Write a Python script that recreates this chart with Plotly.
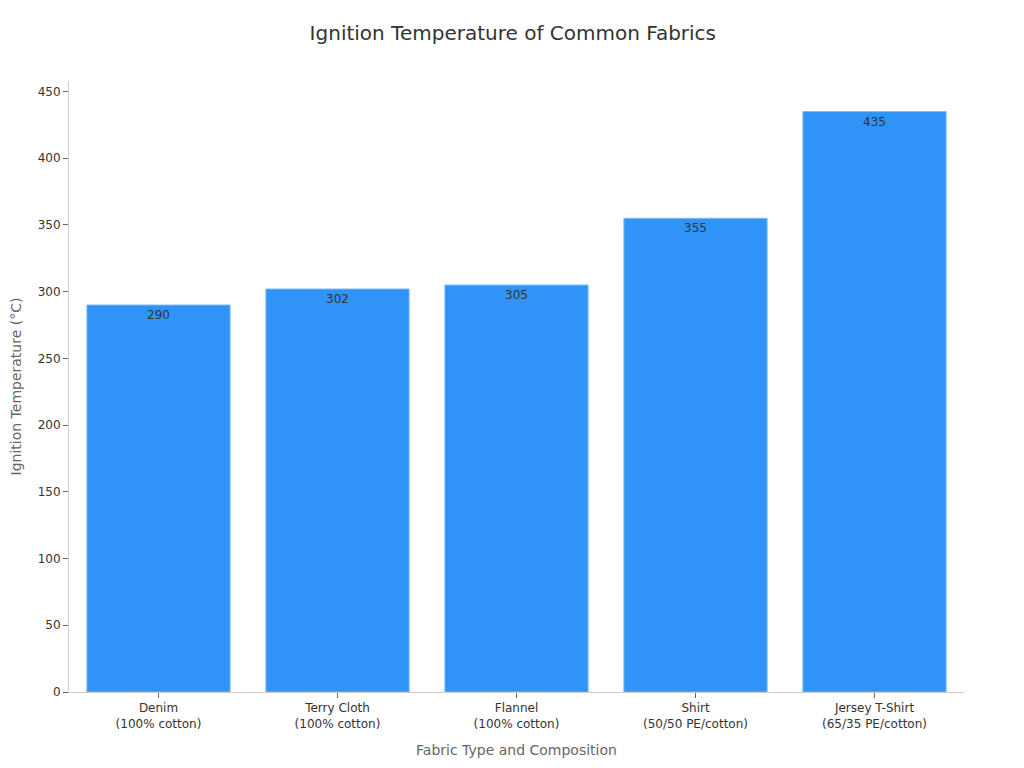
import plotly.graph_objects as go

fabrics = ["Denim<br>(100% cotton)", "Terry Cloth<br>(100% cotton)", "Flannel<br>(100% cotton)",
           "Shirt<br>(50/50 PE/cotton)", "Jersey T-Shirt<br>(65/35 PE/cotton)"]
ignition_temp = [290, 302, 305, 355, 435]

fig = go.Figure(data=go.Bar(
    x=fabrics, y=ignition_temp,
    text=ignition_temp, textposition='inside', insidetextanchor='end',
    textfont=dict(color='#333333', size=12),
    marker=dict(color='#2F93F8', line=dict(color='#7DBBF9', width=1)),
))

fig.update_layout(
    title=dict(text='Ignition Temperature of Common Fabrics', x=0.493, y=0.976,
               font=dict(size=20, color='#333333')),
    font=dict(family='DejaVu Sans', size=12, color='#333333'),
    plot_bgcolor='white', paper_bgcolor='white',
    width=1024, height=768,
    margin=dict(l=61, r=68, t=73, b=84),
    bargap=0.2,
    xaxis=dict(title=dict(text='Fabric Type and Composition', font=dict(size=14, color='#666666')),
               showline=True, linecolor='#CCCCCC', ticks='outside', tickcolor='#666666', ticklen=5),
    yaxis=dict(title=dict(text='Ignition Temperature (°C)', font=dict(size=14, color='#666666')),
               showline=True, linecolor='#CCCCCC', ticks='outside', tickcolor='#666666', ticklen=5,
               showgrid=False, zeroline=False, dtick=50, automargin=False),
)

fig.write_html("out.html")
